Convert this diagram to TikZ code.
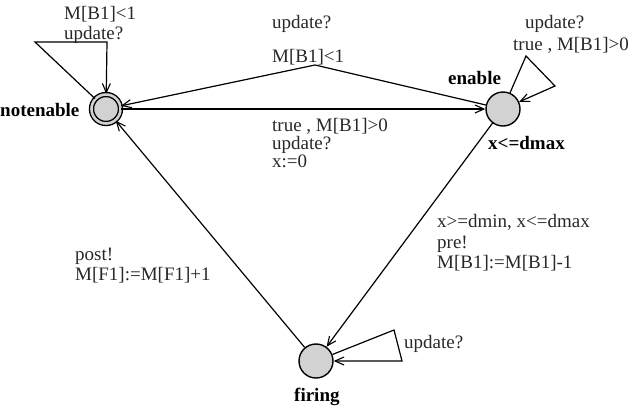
\documentclass[tikz,border=0pt]{standalone}
\usepackage{fontspec}
\setmainfont{Liberation Serif}
\usetikzlibrary{arrows.meta}
\definecolor{stfill}{RGB}{210,210,210}
\definecolor{txt}{RGB}{40,40,40}
\begin{document}
\begin{tikzpicture}[x=1pt,y=-1pt,
  every node/.style={font=\fontsize{19}{21}\selectfont,text=txt},
  state/.style={circle,draw,line width=1.4pt,fill=stfill,minimum size=34pt,inner sep=0pt},
  initstate/.style={state,double=stfill,double distance=2.6pt,minimum size=29pt},
  edge/.style={line width=1.2pt,-{Straight Barb[length=9pt,width=8pt,line width=1.1pt]}},
  lbl/.style={anchor=base west,inner sep=0pt},
  slbl/.style={anchor=base west,inner sep=0pt,text=black,font=\fontsize{19}{21}\selectfont\bfseries}]
\useasboundingbox (0,0) rectangle (637,413);
% states
\node[initstate] (ne) at (106,109) {};
\node[state] (en) at (503,109) {};
\node[state] (fi) at (316,361) {};
% state names
\node[slbl] (nen) at (0,116) {notenable};
\node[slbl] (enn) at (448,84) {enable};
\node[slbl] (eninv) at (488,149) {x<=dmax};
\node[slbl] (fin) at (294,401) {firing};
% bend points
\coordinate (l1a) at (35,42);
\coordinate (l1b) at (107,42);
\coordinate (top) at (315,65);
\coordinate (l2a) at (526,56);
\coordinate (l2b) at (555,86);
\coordinate (l3a) at (394,330);
\coordinate (l3b) at (402,361);
% edges
\draw[edge] (ne) -- (l1a) -- (l1b) -- (ne);
\draw[edge] (en) -- (top) -- (ne);
\draw[edge] (ne) -- (en);
\draw[edge] (en) -- (l2a) -- (l2b) -- (en);
\draw[edge] (en) -- (fi);
\draw[edge] (fi) -- (ne);
\draw[edge] (fi) -- (l3a) -- (l3b) -- (fi);
% edge labels
\node[lbl] (t1) at (64,19) {M[B1]<1};
\node[lbl] (t2) at (64,39) {update?};
\node[lbl] (t3) at (272,28) {update?};
\node[lbl] (t4) at (272,62) {M[B1]<1};
\node[lbl] (t5a) at (272,131) {true , M[B1]>0};
\node[lbl] (t5b) at (272,149) {update?};
\node[lbl] (t5c) at (272,167) {x:=0};
\node[lbl] (t6) at (525,28) {update?};
\node[lbl] (t7) at (513,50) {true , M[B1]>0};
\node[lbl] (t8a) at (437,227) {x>=dmin, x<=dmax};
\node[lbl] (t8b) at (437,248) {pre!};
\node[lbl] (t8c) at (437,268) {M[B1]:=M[B1]-1};
\node[lbl] (t9a) at (75,260) {post!};
\node[lbl] (t9b) at (75,280) {M[F1]:=M[F1]+1};
\node[lbl] (t10) at (404,348) {update?};
\end{tikzpicture}
\end{document}
